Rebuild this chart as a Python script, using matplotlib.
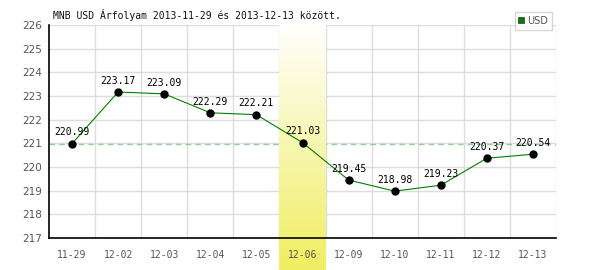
import numpy as np
import matplotlib
matplotlib.use("Agg")
import matplotlib.pyplot as plt
from matplotlib.lines import Line2D

# data
dates = ["11-29", "12-02", "12-03", "12-04", "12-05", "12-06",
         "12-09", "12-10", "12-11", "12-12", "12-13"]
usd = [220.99, 223.17, 223.09, 222.29, 222.21, 221.03,
       219.45, 218.98, 219.23, 220.37, 220.54]
y_ticks = [217, 218, 219, 220, 221, 222, 223, 224, 225, 226]
highlight = "12-06"
title = "MNB USD Árfolyam 2013-11-29 és 2013-12-13 között."

MONO = "DejaVu Sans Mono"
GRID = "#dddddd"
TXT = "#555555"

fig = plt.figure(figsize=(6, 2.7), dpi=100)
ax = fig.add_axes([49 / 600, 1 - 238 / 270, 507 / 600, 213 / 270])

x = np.arange(len(dates))
ymin, ymax = y_ticks[0], y_ticks[-1]
unit_px = 213 / (ymax - ymin)

# grid
for b in np.arange(-0.5, len(dates) + 0.5, 1.0)[1:]:
    ax.axvline(b, color=GRID, lw=1, zorder=1)
for yt in y_ticks[1:]:
    ax.axhline(yt, color=GRID, lw=1, zorder=1)

# reference line at first value
ax.axhline(usd[0], color="#99cc99", lw=1, ls=(0, (4, 3)), zorder=2)

# highlighted day: white -> yellow gradient running down past the axis
hi = dates.index(highlight)
grad = np.linspace(0, 1, 256)[:, None]
top_c = np.array([1.0, 1.0, 1.0])
bot_c = np.array([240, 238, 96]) / 255
img = top_c + (bot_c - top_c) * grad[..., None]
img = np.repeat(img, 2, axis=1)
y_low = ymin - (270 - 238) / unit_px
y_high = ymax + 2 / unit_px
ax.imshow(img, extent=(hi - 0.5, hi + 0.5, y_low, y_high), origin="upper",
          aspect="auto", clip_on=False, zorder=2.5)

ax.plot(x, usd, color="#008000", lw=0.8, zorder=3)
ax.plot(x, usd, "o", color="black", ms=5, zorder=4)
for xi, v in zip(x, usd):
    ax.annotate(f"{v:.2f}", (xi, v), xytext=(0, 4.5), textcoords="offset points",
                ha="center", va="bottom", fontsize=7, family=MONO,
                color="black", zorder=5)

# axis lines drawn on top of the band
ax.axhline(ymin, color="black", lw=1.2, zorder=6, clip_on=False)
ax.axvline(-0.5, color="black", lw=1.2, zorder=6, clip_on=False)

ax.set_xlim(-0.5, len(dates) - 0.5)
ax.set_ylim(ymin, ymax)
ax.set_xticks(x)
ax.set_xticklabels(dates, family=MONO, fontsize=7, color=TXT)
ax.set_yticks(y_ticks)
ax.set_yticklabels([str(t) for t in y_ticks], fontsize=7.5, color=TXT)
ax.tick_params(axis="x", length=0, pad=9)
ax.tick_params(axis="y", length=0, pad=5)
ax.xaxis.set_zorder(7)
for s in ax.spines.values():
    s.set_visible(False)
ax.set_facecolor("none")

fig.text(53 / 600, 1 - 15 / 270, title, family=MONO, fontsize=7,
         color="#111111", va="center", ha="left")

handle = Line2D([], [], marker="s", ls="none", color="#008000",
                markeredgecolor="#333333", markeredgewidth=0.5, ms=5)
leg = fig.legend([handle], ["USD"], loc="upper right",
                 bbox_to_anchor=(552 / 600, 1 - 12 / 270),
                 frameon=True, fancybox=False, fontsize=7,
                 handlelength=0.6, handletextpad=0.3, borderpad=0.4,
                 borderaxespad=0)
leg.get_frame().set_edgecolor("#cccccc")
leg.get_frame().set_linewidth(1)
for t in leg.get_texts():
    t.set_color(TXT)

fig.savefig("out.png", dpi=100)
